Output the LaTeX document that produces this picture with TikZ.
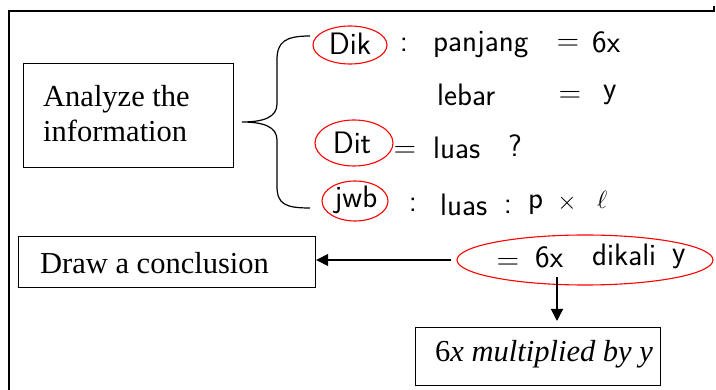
\documentclass[tikz,border=0pt]{standalone}
\usepackage{fontspec}
\setmainfont{Liberation Serif}
\usetikzlibrary{shapes.geometric,arrows.meta}
\tikzset{
  box/.style={draw, line width=1.2pt, anchor=north west, inner sep=0pt},
  boxtext/.style={font=\fontsize{30.5}{35}\selectfont, inner sep=0pt, anchor=west, align=left},
  hw/.style={font=\sffamily\fontsize{31}{31}\selectfont, inner sep=0pt},
  circ/.style={draw=red, line width=1.1pt, ellipse, inner sep=0pt},
  arr/.style={line width=1.4pt, -{Triangle[length=12pt,width=12pt]}},
}
\begin{document}
\begin{tikzpicture}[x=1pt,y=-1pt]
\useasboundingbox (0,0) rectangle (716,390);
% frame
\draw[line width=2pt] (9,390) -- (9,11) -- (310,11);
\draw[line width=1.2pt] (310,11) -- (714,11) -- (714,6);

% boxes
\node[box, minimum width=210pt, minimum height=104pt] (analyze) at (23,63) {};
\node[boxtext] (analyzet) at (43,114) {Analyze the\\information};
\node[box, minimum width=297pt, minimum height=51pt] (conc) at (18,236) {};
\node[boxtext] (conct) at (40,263) {Draw a conclusion};
\node[box, minimum width=245pt, minimum height=58pt] (res3) at (415,327) {};
\node[boxtext] (res3t) at (435,354) {6\textit{x multiplied by y}};

% brace
\draw[line width=1.2pt] (310,36) .. controls (285,36) and (277,42) .. (277,60) -- (277,104)
  .. controls (277,117) and (264,122) .. (242,122)
  .. controls (264,122) and (277,127) .. (277,140) -- (277,186)
  .. controls (277,204) and (285,208) .. (310,208);

% handwritten: row 1
\node[circ, minimum width=74pt, minimum height=38pt] (dikc) at (350,45) {};
\node[hw] (dik) at (350,44) {Dik};
\node[hw] (col1) at (404,45) {:};
\node[hw, anchor=west] (panjang) at (433,45) {panjang};
\node[hw] (eq1) at (568,45) {=};
\node[hw, anchor=west] (sixx) at (592,42) {6x};
% row 2
\node[hw, anchor=west] (lebar) at (437,95) {lebar};
\node[hw] (eq2) at (570,97) {=};
\node[hw, anchor=west] (ly) at (603,95) {y};
% row 3
\node[circ, minimum width=78pt, minimum height=46pt] (ditc) at (354,143) {};
\node[hw] (dit) at (352,143) {Dit};
\node[hw] (eq3) at (405,152) {=};
\node[hw, anchor=west] (luas1) at (433,148) {luas};
\node[hw] (q) at (515,146) {?};
% row 4
\node[circ, minimum width=66pt, minimum height=40pt] (jwbc) at (355,201) {};
\node[hw] (jwb) at (356,200) {jwb};
\node[hw] (col4) at (413,205) {:};
\node[hw, anchor=west] (luas2) at (440,205) {luas};
\node[hw] (col5) at (508,207) {:};
\node[hw, anchor=west] (p) at (528,205) {p};
\node[hw] (times) at (567,203) {$\times$};
\node[hw, anchor=west] (ell) at (597,200) {$\ell$};
% result
\node[circ, minimum width=256pt, minimum height=50pt] (res) at (585,260) {};
\node[hw] (req) at (508,264) {=};
\node[hw, anchor=west] (r6x) at (535,257) {6x};
\node[hw, anchor=west] (rdik) at (592,255) {dikali};
\node[hw, anchor=west] (ry) at (672,259) {y};

% connectors
\draw[arr, shorten <=5pt] (res.west) -- (conc.east |- res.west);
\coordinate (vstart) at (557,277);
\draw[arr, shorten >=6pt] (vstart) -- (vstart |- res3.north);
\end{tikzpicture}
\end{document}
